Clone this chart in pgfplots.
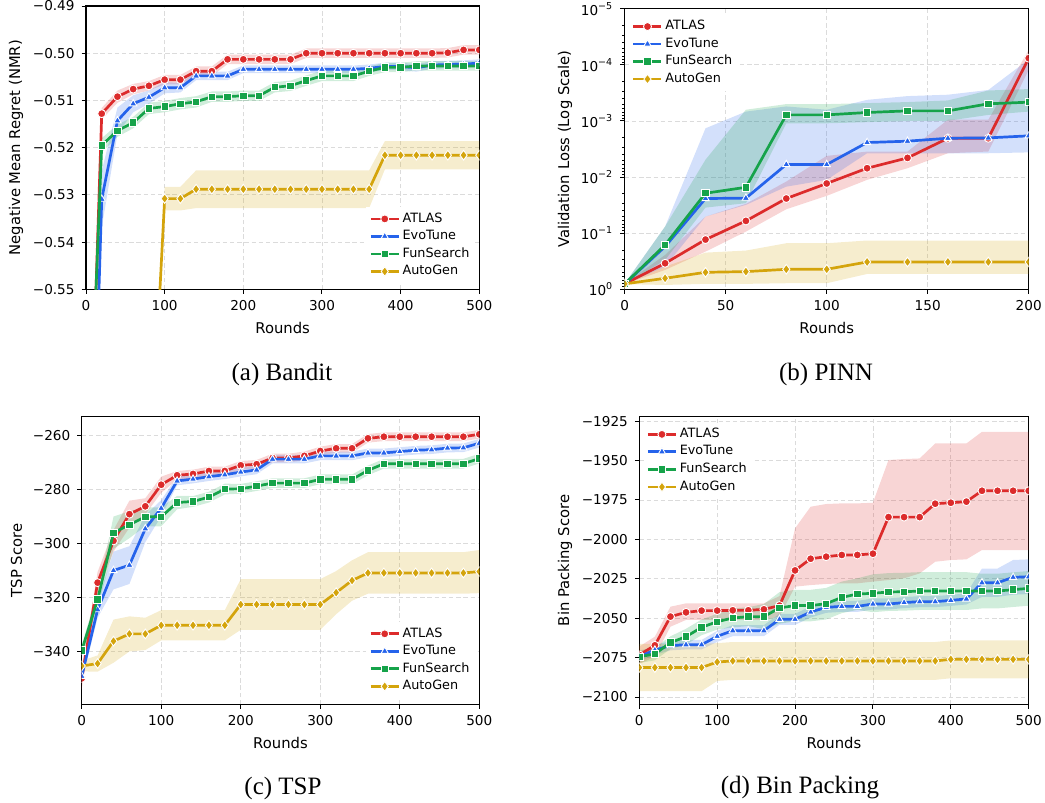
\documentclass[border=0pt]{standalone}
\usepackage{fontspec}
\setmainfont{DejaVu Sans}
\newfontfamily\capfont{Liberation Serif}
\usepackage{pgfplots}
\usepackage{pgfplotstable}
\pgfplotsset{compat=1.18}
\usepgfplotslibrary{fillbetween}

\definecolor{cA}{HTML}{DC2B2B}
\definecolor{cE}{HTML}{2563EB}
\definecolor{cF}{HTML}{16A34A}
\definecolor{cG}{HTML}{D4A40C}

% ---------- (a) Bandit ----------
\pgfplotstableread{
x y e
0 -0.615 0.002
20 -0.5128 0.0012
40 -0.5092 0.0013
60 -0.5076 0.0011
80 -0.5069 0.0010
100 -0.5056 0.0010
120 -0.5056 0.0010
140 -0.5038 0.0010
160 -0.5038 0.0010
180 -0.5013 0.0010
200 -0.5013 0.0010
220 -0.5013 0.0010
240 -0.5013 0.0010
260 -0.5013 0.0010
280 -0.5000 0.0010
300 -0.5000 0.0010
320 -0.5000 0.0010
340 -0.5000 0.0010
360 -0.5000 0.0010
380 -0.5000 0.0010
400 -0.5000 0.0010
420 -0.5000 0.0010
440 -0.5000 0.0010
460 -0.4999 0.0010
480 -0.4993 0.0010
500 -0.4993 0.0010
}\aAT
\pgfplotstableread{
x y e
0 -0.640 0.004
20 -0.5309 0.0060
40 -0.5143 0.0028
60 -0.5107 0.0018
80 -0.5093 0.0014
100 -0.5073 0.0012
120 -0.5073 0.0010
140 -0.5048 0.0009
160 -0.5048 0.0009
180 -0.5048 0.0009
200 -0.5034 0.0008
220 -0.5034 0.0008
240 -0.5034 0.0008
260 -0.5034 0.0008
280 -0.5034 0.0008
300 -0.5034 0.0008
320 -0.5034 0.0008
340 -0.5034 0.0008
360 -0.5032 0.0008
380 -0.5028 0.0008
400 -0.5028 0.0008
420 -0.5031 0.0008
440 -0.5025 0.0008
460 -0.5024 0.0008
480 -0.5023 0.0008
500 -0.5021 0.0008
}\aEV
\pgfplotstableread{
x y e
0 -0.603 0.002
20 -0.5195 0.0015
40 -0.5164 0.0013
60 -0.5147 0.0012
80 -0.5117 0.0012
100 -0.5113 0.0012
120 -0.5107 0.0012
140 -0.5103 0.0012
160 -0.5092 0.0011
180 -0.5092 0.0011
200 -0.5090 0.0011
220 -0.5090 0.0011
240 -0.5072 0.0011
260 -0.5069 0.0011
280 -0.5058 0.0011
300 -0.5048 0.0011
320 -0.5048 0.0011
340 -0.5048 0.0011
360 -0.5038 0.0010
380 -0.5030 0.0010
400 -0.5030 0.0010
420 -0.5027 0.0010
440 -0.5027 0.0010
460 -0.5027 0.0010
480 -0.5027 0.0010
500 -0.5027 0.0010
}\aFS
\pgfplotstableread{
x y e
0 -0.595 0.003
20 -0.595 0.003
40 -0.595 0.003
60 -0.595 0.003
80 -0.595 0.003
100 -0.5308 0.0025
120 -0.5308 0.0025
140 -0.5288 0.0040
160 -0.5288 0.0040
180 -0.5288 0.0040
200 -0.5288 0.0040
220 -0.5288 0.0040
240 -0.5288 0.0040
260 -0.5288 0.0040
280 -0.5288 0.0040
300 -0.5288 0.0040
320 -0.5288 0.0040
340 -0.5288 0.0040
360 -0.5288 0.0040
380 -0.5216 0.0030
400 -0.5216 0.0030
420 -0.5216 0.0030
440 -0.5216 0.0030
460 -0.5216 0.0030
480 -0.5216 0.0030
500 -0.5216 0.0030
}\aAG

% ---------- (b) PINN (log, lo/hi bands) ----------
\pgfplotstableread{
x y lo hi
0 0.80 0.79 0.81
20 0.344 0.244 0.452
40 0.130 0.0506 0.213
60 0.0604 0.030 0.0936
80 0.0241 0.0120 0.0374
100 0.0130 0.00419 0.0216
120 0.00695 0.00351 0.0112
140 0.00455 0.00351 0.00695
160 0.00203 0.00095 0.00376
180 0.00203 0.00095 0.0035
200 7.6e-5 5.4e-5 1.23e-4
}\bAT
\pgfplotstableread{
x y lo hi
0 0.80 0.79 0.81
20 0.173 0.076 0.394
40 0.0241 0.00135 0.0506
60 0.0237 6.8e-4 0.0313
80 0.00597 5.5e-4 0.0148
100 0.00597 6.3e-4 0.0112
120 0.00242 4.2e-4 0.00376
140 0.00229 3.6e-4 0.00376
160 0.00203 3.4e-4 0.00376
180 0.00200 2.8e-4 0.00376
200 0.00184 8.0e-5 0.00363
}\bEV
\pgfplotstableread{
x y lo hi
0 0.80 0.79 0.81
20 0.162 0.076 0.30
40 0.0194 0.0049 0.035
60 0.0152 6.3e-4 0.0292
80 7.78e-4 5.0e-4 1.1e-3
100 7.78e-4 5.0e-4 1.1e-3
120 7.06e-4 4.8e-4 1.05e-3
140 6.6e-4 4.6e-4 1.0e-3
160 6.6e-4 4.3e-4 9.9e-4
180 4.94e-4 2.86e-4 7.8e-4
200 4.62e-4 2.7e-4 6.8e-4
}\bFS
\pgfplotstableread{
x y lo hi
0 0.80 0.79 0.81
20 0.637 0.394 0.837
40 0.498 0.222 0.80
60 0.484 0.204 0.80
80 0.44 0.151 0.78
100 0.44 0.151 0.78
120 0.326 0.135 0.533
140 0.326 0.135 0.533
160 0.326 0.135 0.533
180 0.326 0.135 0.533
200 0.326 0.135 0.533
}\bAG

% ---------- (c) TSP ----------
\pgfplotstableread{
x y e
0 -350 4
20 -314.5 4
40 -299.0 4
60 -289.1 5
80 -286.2 3
100 -278.2 3
120 -274.7 1.6
140 -274.2 1.6
160 -273.1 1.6
180 -273.1 1.6
200 -271.0 1.6
220 -270.6 1.6
240 -268.3 1.6
260 -268.3 1.6
280 -267.5 1.6
300 -265.7 1.6
320 -264.7 1.6
340 -264.7 1.6
360 -261.0 1.6
380 -260.4 1.6
400 -260.4 1.6
420 -260.4 1.6
440 -260.4 1.6
460 -260.4 1.6
480 -260.4 1.6
500 -259.5 1.6
}\cAT
\pgfplotstableread{
x y e
0 -349.2 2
20 -324.5 3
40 -310.0 7
60 -308.0 7
80 -294.5 5
100 -286.9 3
120 -276.8 1.6
140 -276.1 1.6
160 -275.2 1.6
180 -274.5 1.6
200 -273.5 1.6
220 -272.7 1.6
240 -268.7 1.6
260 -268.7 1.6
280 -268.7 1.6
300 -267.5 1.6
320 -267.5 1.6
340 -267.5 1.6
360 -266.4 1.6
380 -266.4 1.6
400 -265.9 1.6
420 -265.4 1.6
440 -265.2 1.6
460 -264.6 1.6
480 -264.5 1.6
500 -262.8 1.6
}\cEV
\pgfplotstableread{
x y e
0 -339.7 2
20 -320.8 3
40 -296.0 6
60 -293.0 5
80 -290.1 3.5
100 -290.1 3.5
120 -284.8 2.5
140 -284.4 2
160 -282.8 2
180 -279.8 2
200 -279.7 1.8
220 -278.7 1.8
240 -277.6 1.8
260 -277.6 1.8
280 -277.6 1.8
300 -276.2 1.8
320 -276.2 1.8
340 -276.2 1.8
360 -272.9 1.8
380 -270.4 1.8
400 -270.4 1.8
420 -270.4 1.8
440 -270.4 1.8
460 -270.4 1.8
480 -270.4 1.8
500 -268.5 1.8
}\cFS
\pgfplotstableread{
x y e
0 -345.4 2
20 -344.5 3
40 -336.2 8
60 -333.5 6.5
80 -333.5 6
100 -330.3 5.6
120 -330.3 5.6
140 -330.3 5.6
160 -330.3 5.6
180 -330.3 5.6
200 -322.6 9.4
220 -322.6 9.4
240 -322.6 9.4
260 -322.6 9.4
280 -322.6 9.4
300 -322.6 9.4
320 -318.2 8
340 -313.7 7.5
360 -310.9 7.7
380 -310.9 7.7
400 -310.9 7.7
420 -310.9 7.7
440 -310.9 7.7
460 -310.9 7.7
480 -310.9 7.7
500 -310.4 8
}\cAG

% ---------- (d) Bin Packing ----------
\pgfplotstableread{
x y lo hi
0 -2073.3 -2079 -2068
20 -2067.2 -2074.4 -2061.7
40 -2049.0 -2055.4 -2042.7
60 -2046.3 -2051.1 -2040.6
80 -2045.2 -2051.1 -2040.6
100 -2045.2 -2051.1 -2040.6
120 -2045.0 -2051.1 -2040.6
140 -2045.0 -2051.1 -2040.6
160 -2044.4 -2051.0 -2040.6
180 -2042.0 -2049.0 -2036.0
200 -2019.7 -2030.0 -1993.0
220 -2012.3 -2029.0 -1979.3
240 -2011.0 -2028.3 -1977.6
260 -2009.9 -2027.9 -1977.2
280 -2009.9 -2027.9 -1977.2
300 -2009.1 -2026.8 -1976.8
320 -1985.9 -2025.8 -1949.7
340 -1985.9 -2024.7 -1949.1
360 -1985.9 -2021.6 -1948.7
380 -1977.4 -2014.2 -1939.2
400 -1976.8 -2013.1 -1939.2
420 -1976.1 -2012.7 -1939.2
440 -1969.2 -2006.8 -1931.8
460 -1969.2 -2006.8 -1931.8
480 -1969.2 -2006.8 -1931.8
500 -1969.2 -2006.8 -1931.8
}\dAT
\pgfplotstableread{
x y e
0 -2074.4 3
20 -2070.2 3
40 -2067.4 3
60 -2066.8 3
80 -2066.8 3
100 -2061.5 3.5
120 -2057.9 3.5
140 -2057.9 3.5
160 -2057.9 3.5
180 -2050.7 3.5
200 -2050.7 3.5
220 -2046.1 3.5
240 -2043.1 3.5
260 -2042.5 3.5
280 -2042.5 3.5
300 -2041.0 3.5
320 -2041.0 3.5
340 -2040.1 3.5
360 -2039.5 3.5
380 -2039.5 3.5
400 -2038.7 3.5
420 -2037.8 3.5
440 -2027.5 9
460 -2027.5 9
480 -2024.1 11
500 -2023.7 11
}\dEV
\pgfplotstableread{
x y e
0 -2074.4 4
20 -2072.7 4
40 -2065.5 4
60 -2061.7 5
80 -2055.8 5
100 -2052.2 5
120 -2049.9 6
140 -2049.0 6
160 -2049.0 8
180 -2043.5 10
200 -2042.0 10
220 -2042.0 10
240 -2040.8 10
260 -2036.8 10
280 -2034.7 10
300 -2034.2 12
320 -2033.4 12
340 -2033.2 12
360 -2032.8 12
380 -2032.8 12
400 -2032.8 12
420 -2032.8 12
440 -2032.8 11
460 -2032.8 11
480 -2031.9 11
500 -2031.1 11
}\dFS
\pgfplotstableread{
x y e
0 -2081.3 15
20 -2081.3 15
40 -2081.3 15
60 -2081.3 15
80 -2081.3 15
100 -2077.8 12
120 -2077.1 12
140 -2077.1 12
160 -2077.1 12
180 -2077.1 12
200 -2077.1 12
220 -2077.1 12
240 -2077.1 12
260 -2077.1 12
280 -2077.1 12
300 -2077.1 12
320 -2077.1 12
340 -2077.1 12
360 -2077.1 12
380 -2077.1 12
400 -2076.1 12
420 -2076.1 12
440 -2076.1 12
460 -2076.1 12
480 -2076.1 12
500 -2076.1 12
}\dAG

% band from y +/- e
\newcommand{\bandE}[3]{%
  \addplot[draw=none, forget plot, name path=#3u] table[x=x, y expr=\thisrow{y}+\thisrow{e}] {#1};
  \addplot[draw=none, forget plot, name path=#3l] table[x=x, y expr=\thisrow{y}-\thisrow{e}] {#1};
  \addplot[fill=#2, fill opacity=0.2, draw=none, forget plot] fill between[of=#3u and #3l];
}
% band from lo/hi columns
\newcommand{\bandLH}[3]{%
  \addplot[draw=none, forget plot, name path=#3u] table[x=x, y=hi] {#1};
  \addplot[draw=none, forget plot, name path=#3l] table[x=x, y=lo] {#1};
  \addplot[fill=#2, fill opacity=0.2, draw=none, forget plot] fill between[of=#3u and #3l];
}

\pgfplotsset{
  panel/.style={
    scale only axis,
    anchor=south west,
    clip marker paths=true,
    tick align=outside,
    tick pos=left,
    major tick length=2.2pt,
    minor tick length=1.3pt,
    grid=major,
    major grid style={dash pattern=on 2.2pt off 1.4pt, black!14, line width=0.4pt},
    axis line style={line width=0.6pt},
    every tick/.style={black, line width=0.5pt},
    tick label style={font=\fontsize{6.8}{8}\selectfont},
    label style={font=\fontsize{7.4}{9}\selectfont},
    xlabel style={yshift=1.2pt},
    /pgf/number format/assume math mode=true,
    xlabel=Rounds,
    legend cell align=left,
    legend style={font=\fontsize{6.4}{7.6}\selectfont, draw=none, fill=white,
      row sep=0pt, inner sep=1.5pt, nodes={inner sep=1.25pt}},
    legend image code/.code={\draw[##1,mark repeat=2,mark phase=2] plot coordinates {(0pt,0pt) (7pt,0pt) (14pt,0pt)};},
  },
  atlas/.style={cA, line width=1.35pt, mark=*, mark size=2pt,
    mark options={fill=cA, draw=white, line width=0.45pt}},
  evo/.style={cE, line width=1.35pt, mark=triangle*, mark size=2.1pt,
    mark options={fill=cE, draw=white, line width=0.45pt}},
  fun/.style={cF, line width=1.35pt, mark=square*, mark size=1.85pt,
    mark options={fill=cF, draw=white, line width=0.45pt}},
  autog/.style={cG, line width=1.35pt, mark=diamond*, mark size=2.4pt,
    mark options={fill=cG, draw=white, line width=0.45pt}},
}

\begin{document}
\begin{tikzpicture}

% (a) Bandit
\begin{axis}[panel,
  at={(43pt,256.85pt)}, width=196.65pt, height=141.65pt,
  xmin=0, xmax=500, ymin=-0.55, ymax=-0.49,
  xtick={0,100,200,300,400,500},
  ytick={-0.55,-0.54,-0.53,-0.52,-0.51,-0.50,-0.49},
  yticklabels={−0.55,−0.54,−0.53,−0.52,−0.51,−0.50,−0.49},
  ylabel={Negative Mean Regret (NMR)}, ylabel shift=-2pt,
  legend style={at={(0.99,0.02)}, anchor=south east}]
  \bandE{\aAT}{cA}{aa}
  \bandE{\aEV}{cE}{ab}
  \bandE{\aFS}{cF}{ac}
  \bandE{\aAG}{cG}{ad}
  \addplot[atlas] table[x=x, y=y] {\aAT};
  \addplot[evo] table[x=x, y=y] {\aEV};
  \addplot[fun] table[x=x, y=y] {\aFS};
  \addplot[autog] table[x=x, y=y] {\aAG};
  \legend{ATLAS, EvoTune, FunSearch, AutoGen}
\end{axis}

% (b) PINN
\begin{axis}[panel,
  at={(312.35pt,256.85pt)}, width=202pt, height=140.25pt,
  xmin=0, xmax=200, ymode=log, y dir=reverse, ymin=1e-5, ymax=1,
  xtick={0,50,100,150,200},
  ytick={1e-5,1e-4,1e-3,1e-2,1e-1,1},
  yticklabels={10\textsuperscript{−5},10\textsuperscript{−4},10\textsuperscript{−3},10\textsuperscript{−2},10\textsuperscript{−1},10\textsuperscript{0}},
  minor ytick={2e-5,3e-5,4e-5,5e-5,6e-5,7e-5,8e-5,9e-5,
    2e-4,3e-4,4e-4,5e-4,6e-4,7e-4,8e-4,9e-4,
    2e-3,3e-3,4e-3,5e-3,6e-3,7e-3,8e-3,9e-3,
    2e-2,3e-2,4e-2,5e-2,6e-2,7e-2,8e-2,9e-2,
    0.2,0.3,0.4,0.5,0.6,0.7,0.8,0.9},
  ylabel={Validation Loss (Log Scale)}, ylabel shift=-2.5pt,
  legend style={at={(0.01,0.98)}, anchor=north west}]
  \bandLH{\bAT}{cA}{ba}
  \bandLH{\bEV}{cE}{bb}
  \bandLH{\bFS}{cF}{bc}
  \bandLH{\bAG}{cG}{bd}
  \addplot[atlas] table[x=x, y=y] {\bAT};
  \addplot[evo] table[x=x, y=y] {\bEV};
  \addplot[fun] table[x=x, y=y] {\bFS};
  \addplot[autog] table[x=x, y=y] {\bAG};
  \legend{ATLAS, EvoTune, FunSearch, AutoGen}
\end{axis}

% (c) TSP
\begin{axis}[panel,
  at={(40.85pt,49.35pt)}, width=198.8pt, height=143.9pt,
  xmin=0, xmax=500, ymin=-359.6, ymax=-252.9,
  xtick={0,100,200,300,400,500},
  ytick={-340,-320,-300,-280,-260},
  yticklabels={−340,−320,−300,−280,−260},
  ylabel={TSP Score}, ylabel shift=-1.5pt,
  legend style={at={(0.99,0.02)}, anchor=south east}]
  \bandE{\cAT}{cA}{ca}
  \bandE{\cEV}{cE}{cb}
  \bandE{\cFS}{cF}{cc}
  \bandE{\cAG}{cG}{cd}
  \addplot[atlas] table[x=x, y=y] {\cAT};
  \addplot[evo] table[x=x, y=y] {\cEV};
  \addplot[fun] table[x=x, y=y] {\cFS};
  \addplot[autog] table[x=x, y=y] {\cAG};
  \legend{ATLAS, EvoTune, FunSearch, AutoGen}
\end{axis}

% (d) Bin Packing
\begin{axis}[panel,
  at={(319.65pt,49.35pt)}, width=194.7pt, height=143.9pt,
  xmin=0, xmax=500, ymin=-2104.6, ymax=-1922.1,
  xtick={0,100,200,300,400,500},
  ytick={-2100,-2075,-2050,-2025,-2000,-1975,-1950,-1925},
  yticklabels={−2100,−2075,−2050,−2025,−2000,−1975,−1950,−1925},
  ylabel={Bin Packing Score}, ylabel shift=-2pt,
  legend style={at={(0.01,0.98)}, anchor=north west}]
  \bandLH{\dAT}{cA}{da}
  \bandE{\dEV}{cE}{db}
  \bandE{\dFS}{cF}{dc}
  \bandE{\dAG}{cG}{dd}
  \addplot[atlas] table[x=x, y=y] {\dAT};
  \addplot[evo] table[x=x, y=y] {\dEV};
  \addplot[fun] table[x=x, y=y] {\dFS};
  \addplot[autog] table[x=x, y=y] {\dAG};
  \legend{ATLAS, EvoTune, FunSearch, AutoGen}
\end{axis}

\node[font=\capfont\fontsize{12.5}{14}\selectfont] at (141pt,214.5pt) {(a) Bandit};
\node[font=\capfont\fontsize{12.5}{14}\selectfont] at (413pt,214.5pt) {(b) PINN};
\node[font=\capfont\fontsize{12.5}{14}\selectfont] at (141.5pt,7.5pt) {(c) TSP};
\node[font=\capfont\fontsize{12.5}{14}\selectfont] at (400pt,7.5pt) {(d) Bin Packing};
\pgfresetboundingbox
\path (0,0) rectangle (522.5pt,401.5pt);
\end{tikzpicture}
\end{document}
